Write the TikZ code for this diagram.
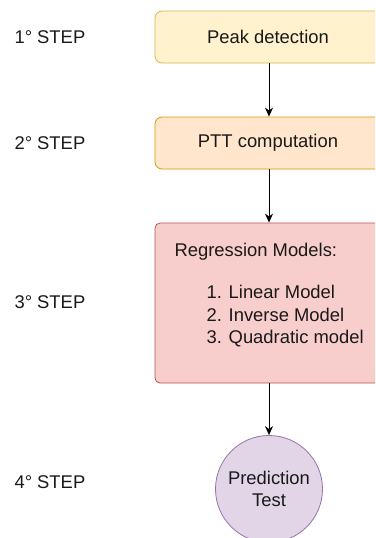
\documentclass[tikz,border=0pt]{standalone}
\usepackage{fontspec}
\setmainfont{Liberation Sans}
\usetikzlibrary{arrows.meta}
\definecolor{yfill}{HTML}{FFF2CC}\definecolor{ydraw}{HTML}{D6B656}
\definecolor{ofill}{HTML}{FFE6CC}\definecolor{odraw}{HTML}{D79B00}
\definecolor{rfill}{HTML}{F8CECC}\definecolor{rdraw}{HTML}{B85450}
\definecolor{pfill}{HTML}{E1D5E7}\definecolor{pdraw}{HTML}{9673A6}
\tikzset{
  txt/.style={font=\fontsize{18.4}{22.5}\selectfont, text=black!90},
  stepbox/.style={draw, line width=0.8pt, rounded corners=7pt, minimum width=230pt, txt},
  steplabel/.style={anchor=west, txt},
  link/.style={-{Stealth[length=9pt,width=8pt]}, line width=0.9pt, black}
}
\begin{document}
\begin{tikzpicture}[x=1pt,y=-1pt]
  \useasboundingbox (0,0) rectangle (375,538);
  \clip (0,0) rectangle (375,538);
  % step labels
  \node[steplabel] (s1) at (11,37) {1° STEP};
  \node[steplabel] (s2) at (11,143) {2° STEP};
  \node[steplabel] (s3) at (11,302) {3° STEP};
  \node[steplabel] (s4) at (11,482) {4° STEP};
  % process boxes
  \node[stepbox, fill=yfill, draw=ydraw, minimum height=52pt] (b1) at (270,37) {};
  \node[txt] at (268,37) {Peak detection};
  \node[stepbox, fill=ofill, draw=odraw, minimum height=52pt] (b2) at (270,143) {};
  \node[txt] at (268,143) {PTT computation};
  \node[stepbox, fill=rfill, draw=rdraw, rounded corners=5pt, minimum height=160pt] (b3) at (270,303) {};
  \node[txt, anchor=west] at (171,252) {Regression Models:};
  \node[txt, anchor=north west, align=left] at (203,282) {1. Linear Model\\2. Inverse Model\\3. Quadratic model};
  % final test
  \node[circle, draw=pdraw, fill=pfill, line width=0.8pt, minimum size=107pt, inner sep=0pt, txt, align=center] (c4) at (269,489) {Prediction\\[-1pt]Test};
  % connectors
  \draw[link] (b1.south -| 269,0) -- (b2.north -| 269,0);
  \draw[link] (b2.south -| 269,0) -- (b3.north -| 269,0);
  \draw[link] (b3.south -| 269,0) -- (c4.north);
\end{tikzpicture}
\end{document}
